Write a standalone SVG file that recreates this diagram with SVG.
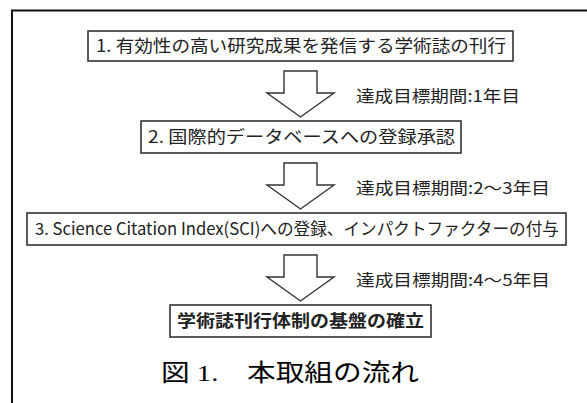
<svg xmlns="http://www.w3.org/2000/svg" width="587" height="403" viewBox="0 0 587 403">
<style>
.box{fill:#fff;stroke:#333;stroke-width:1.6}
.arr{fill:#fff;stroke:#333;stroke-width:1.4;stroke-linejoin:miter}
.t{font-family:"Noto Sans CJK JP","Liberation Sans",sans-serif;font-size:17px;fill:#222}
.lbl{font-family:"Noto Sans CJK JP","Liberation Sans",sans-serif;font-size:16px;fill:#222}
.cap{font-family:"Liberation Serif","Noto Sans CJK JP",serif;font-size:24px;fill:#000}
</style>
<rect width="587" height="403" fill="#fff"/>
<path d="M12,403 V10.5 H587" fill="none" stroke="#111" stroke-width="2"/>
<g id="connectors">
<path class="arr" d="M284,71 H317 V93 H334 L300.5,117 L267,93 H284 Z"/>
<path class="arr" d="M284,163 H317 V185 H334 L300.5,209 L267,185 H284 Z"/>
<path class="arr" d="M284,255 H317 V277 H334 L300.5,301 L267,277 H284 Z"/>
<text class="lbl" x="356" y="102" textLength="164" lengthAdjust="spacingAndGlyphs">達成目標期間:1年目</text>
<text class="lbl" x="356" y="194" textLength="194" lengthAdjust="spacingAndGlyphs">達成目標期間:2～3年目</text>
<text class="lbl" x="356" y="286" textLength="194" lengthAdjust="spacingAndGlyphs">達成目標期間:4～5年目</text>
</g>
<g id="node1">
<rect class="box" x="88" y="31" width="425" height="30"/>
<text class="t" x="96" y="52" textLength="410" lengthAdjust="spacingAndGlyphs">1. 有効性の高い研究成果を発信する学術誌の刊行</text>
</g>
<g id="node2">
<rect class="box" x="141" y="121" width="320" height="32"/>
<text class="t" x="148" y="143" textLength="307" lengthAdjust="spacingAndGlyphs">2. 国際的データベースへの登録承認</text>
</g>
<g id="node3">
<rect class="box" x="27" y="213" width="539" height="32"/>
<text class="t" x="35" y="235" textLength="524" lengthAdjust="spacingAndGlyphs">3. Science Citation Index(SCI)への登録、インパクトファクターの付与</text>
</g>
<g id="node4">
<rect class="box" x="170" y="305" width="261" height="32"/>
<text class="t" x="177" y="327" font-weight="bold" textLength="247" lengthAdjust="spacingAndGlyphs">学術誌刊行体制の基盤の確立</text>
</g>
<text class="cap" x="161" y="381" textLength="258" lengthAdjust="spacingAndGlyphs">図 1.　本取組の流れ</text>
</svg>
